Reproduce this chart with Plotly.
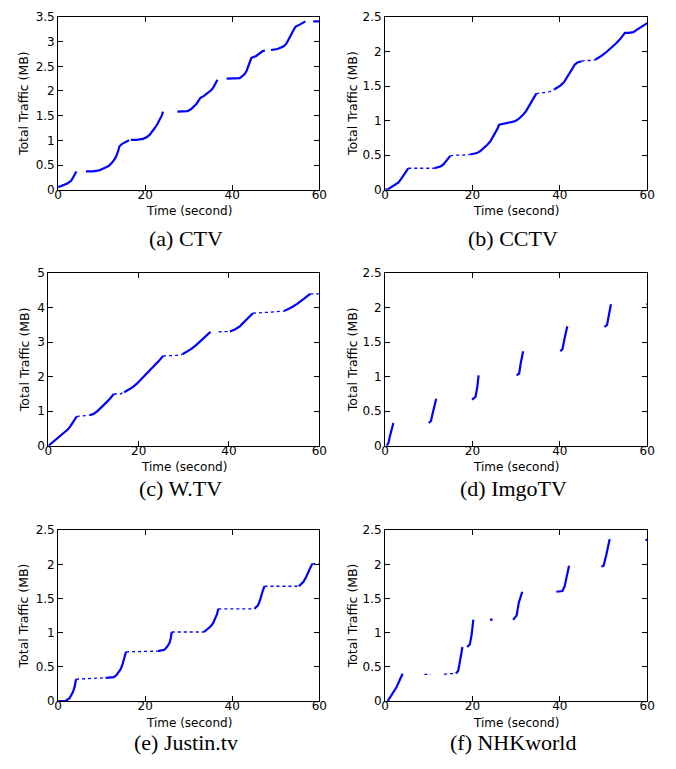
import plotly.graph_objects as go

# (a) CTV
ctv_t = [0, 1, 2, 3, 3.5, 4, 4.2, None,
         6.4, 8, 9.4, 10.5, 11.6, 12.5, 13.2, 13.7, 14.1, 14.7, 15.8, 16.3, None,
         16.7, 18, 19.5, 20.3, 21, 21.6, 22.2, 22.8, 23.3, 23.8, 24.1, None,
         27.4, 28.5, 29.7, 30.5, 31.2, 31.8, 32.3, 32.7, 33.5, 34.6, 35.2, 35.7, 36.2, 36.6, None,
         38.7, 40, 41.7, 42.3, 42.9, 43.3, 43.6, 44, 44.4, 45.5, 46.3, 47, 47.5, None,
         48.9, 50.4, 51.2, 51.9, 52.5, 53, 53.5, 53.9, 54.5, 55.6, 56.3, 56.8, None,
         58.6, 60]
ctv_mb = [0.05, 0.08, 0.12, 0.18, 0.25, 0.33, 0.37, None,
          0.37, 0.37, 0.39, 0.43, 0.48, 0.56, 0.65, 0.76, 0.88, 0.93, 0.99, 1.0, None,
          1.01, 1.01, 1.03, 1.06, 1.11, 1.17, 1.25, 1.33, 1.41, 1.5, 1.58, None,
          1.58, 1.58, 1.59, 1.63, 1.68, 1.74, 1.81, 1.86, 1.9, 1.97, 2.02, 2.08, 2.15, 2.23, None,
          2.25, 2.25, 2.26, 2.3, 2.35, 2.41, 2.48, 2.58, 2.67, 2.71, 2.76, 2.81, 2.82, None,
          2.83, 2.85, 2.88, 2.91, 2.97, 3.05, 3.11, 3.18, 3.3, 3.35, 3.38, 3.41, None,
          3.41, 3.41]
ctv_sparse_t = []
ctv_sparse_mb = []

# (b) CCTV
cctv_t = [0, 0.8, 1.5, 2.2, 3, 3.6, 4.1, 4.5, 4.9, 5.3, None,
          11.3, 12, 12.8, 13.4, 13.9, 14.4, 14.9, None,
          19.5, 20.2, 21, 21.8, 22.6, 23.4, 24.1, 24.7, 25.2, 25.7, 26.1, 27, 27.8, 28.8, 29.7,
          30.5, 31.2, 31.8, 32.3, 32.9, 33.5, 34.1, 34.6, None,
          38.7, 39.5, 40.2, 41, 41.7, 42.3, 42.9, 43.4, 44, 45, None,
          48.1, 48.9, 49.6, 50.8, 51.9, 52.9, 53.8, 54.4, 54.9, 55.8, 56.8, 57.5, 58.3, 59.2, 60]
cctv_mb = [0, 0.01, 0.04, 0.07, 0.1, 0.15, 0.2, 0.23, 0.27, 0.31, None,
           0.31, 0.32, 0.34, 0.37, 0.41, 0.45, 0.49, None,
           0.51, 0.52, 0.53, 0.56, 0.6, 0.65, 0.7, 0.76, 0.82, 0.88, 0.94, 0.95, 0.96, 0.97, 0.99,
           1.02, 1.06, 1.1, 1.14, 1.2, 1.27, 1.33, 1.39, None,
           1.45, 1.48, 1.51, 1.56, 1.63, 1.7, 1.77, 1.81, 1.84, 1.86, None,
           1.88, 1.91, 1.94, 2.0, 2.06, 2.12, 2.18, 2.23, 2.27, 2.27, 2.28, 2.31, 2.34, 2.38, 2.41]
cctv_sparse_t = [5.3, 8, 11.3, None, 14.9, 16.2, 18, 19.5, None,
                 34.6, 35.7, 36.8, 37.8, 38.7, None, 45, 45.9, 47, 48.1]
cctv_sparse_mb = [0.31, 0.31, 0.31, None, 0.49, 0.5, 0.5, 0.51, None,
                  1.39, 1.4, 1.4, 1.42, 1.45, None, 1.86, 1.87, 1.87, 1.88]

# (c) W.TV
wtv_t = [0, 1.2, 2.5, 3.4, 4.3, 4.9, 5.4, 5.9, 6.3, None,
         9.2, 10.1, 11, 12, 12.7, 13.4, 14, 14.5, None,
         16.8, 17.7, 18.7, 19.6, 20.5, 21.4, 22.5, 23.6, 24.5, 25.4, None,
         29.7, 30.6, 31.5, 32.6, 33.7, 34.8, 35.9, None,
         40.2, 41.3, 42.4, 43.3, 44.2, 44.8, 45.3, None,
         52.2, 53.1, 54, 55.1, 56.2, 57.1, 58]
wtv_mb = [0, 0.13, 0.28, 0.37, 0.47, 0.57, 0.66, 0.76, 0.85, None,
          0.89, 0.93, 1.02, 1.14, 1.23, 1.33, 1.42, 1.5, None,
          1.55, 1.61, 1.7, 1.8, 1.92, 2.04, 2.18, 2.32, 2.46, 2.6, None,
          2.65, 2.71, 2.79, 2.9, 3.03, 3.16, 3.3, None,
          3.31, 3.37, 3.46, 3.57, 3.69, 3.77, 3.84, None,
          3.9, 3.95, 4.02, 4.11, 4.21, 4.31, 4.4]
wtv_sparse_t = [6.3, 7.3, 8.3, 9.2, None, 14.5, 15.9, 16.8, None, 25.4, 27.2, 28.5, 29.7, None,
                37.7, 39, 40.2, None, 45.3, 47.5, 50.4, 52.2, None, 58, 60]
wtv_sparse_mb = [0.85, 0.86, 0.87, 0.89, None, 1.5, 1.5, 1.55, None, 2.6, 2.6, 2.62, 2.65, None,
                 3.3, 3.3, 3.31, None, 3.84, 3.85, 3.88, 3.9, None, 4.4, 4.4]

# (d) ImgoTV
imgo_t = [0.4, 0.8, 1.1, 1.5, 1.9, None, 10, 10.5, 10.9, 11.3, 11.7, None,
          19.9, 20.7, 21.1, 21.4, None, 30.1, 30.7, 31, 31.6, None,
          40.1, 40.6, 41.1, 41.7, None, 50.2, 50.8, 51.3, 51.7, None, 59.8, 60]
imgo_mb = [0, 0.05, 0.14, 0.24, 0.33, None, 0.33, 0.36, 0.47, 0.59, 0.68, None,
           0.67, 0.71, 0.85, 1.02, None, 1.02, 1.05, 1.18, 1.37, None,
           1.37, 1.4, 1.56, 1.73, None, 1.72, 1.75, 1.92, 2.05, None, 2.05, 2.05]
imgo_sparse_t = []
imgo_sparse_mb = []

# (e) Justin.tv
justin_t = [0, 1.7, 2.6, 3.4, 3.8, 4.1, None,
            10.9, 12.8, 13.4, 13.9, 14.4, 14.8, 15.2, 15.6, None,
            22.9, 24.4, 25, 25.6, 25.9, 26.1, None,
            33.5, 35, 35.6, 36.1, 36.5, 36.8, None,
            45.1, 45.9, 46.3, 46.6, 47, 47.4, None,
            55.3, 56.4, 57, 57.5, 58, 58.4]
justin_mb = [0, 0, 0.04, 0.13, 0.21, 0.32, None,
             0.34, 0.35, 0.38, 0.42, 0.47, 0.54, 0.62, 0.72, None,
             0.73, 0.75, 0.79, 0.85, 0.93, 1.01, None,
             1.01, 1.09, 1.14, 1.2, 1.27, 1.35, None,
             1.35, 1.4, 1.46, 1.54, 1.61, 1.68, None,
             1.68, 1.75, 1.82, 1.9, 1.96, 2.01]
justin_sparse_t = [4.1, 7.5, 10.9, None, 15.6, 19, 22.9, None, 26.1, 30, 33.5, None,
                   36.8, 41, 45.1, None, 47.4, 51, 55.3, None, 58.4, 60]
justin_sparse_mb = [0.32, 0.33, 0.34, None, 0.72, 0.72, 0.73, None, 1.01, 1.01, 1.01, None,
                    1.35, 1.35, 1.35, None, 1.68, 1.68, 1.68, None, 2.01, 2.01]

# (f) NHKworld
nhk_t = [0.6, 1.5, 2.6, 3.3, 4, None, 16.2, 16.7, 17, 17.3, 17.7, None,
         18.8, 19.4, 19.8, 20, 20.2, None, 24, 24.6, None,
         29.3, 30.1, 30.6, 31, 31.4, None, 39.2, 40.6, 41.1, 41.6, 42.1, None,
         49.5, 50, 50.6, 51, 51.4, None, 59.6, 60]
nhk_mb = [0, 0.09, 0.2, 0.3, 0.4, None, 0.4, 0.44, 0.53, 0.63, 0.79, None,
          0.79, 0.83, 0.97, 1.08, 1.19, None, 1.19, 1.19, None,
          1.19, 1.25, 1.44, 1.52, 1.6, None, 1.6, 1.61, 1.68, 1.82, 1.98, None,
          1.97, 1.98, 2.13, 2.25, 2.37, None, 2.36, 2.36]
nhk_sparse_t = [9, 10.5, None, 13.5, 14.7, 16.2]
nhk_sparse_mb = [0.39, 0.39, None, 0.39, 0.4, 0.4]

captions = ['(a) CTV', '(b) CCTV', '(c) W.TV', '(d) ImgoTV', '(e) Justin.tv', '(f) NHKworld']
y_max = [3.5, 2.5, 5, 2.5, 2.5, 2.5]
y_step = [0.5, 0.5, 1, 0.5, 0.5, 0.5]

panels = [(ctv_t, ctv_mb, ctv_sparse_t, ctv_sparse_mb),
          (cctv_t, cctv_mb, cctv_sparse_t, cctv_sparse_mb),
          (wtv_t, wtv_mb, wtv_sparse_t, wtv_sparse_mb),
          (imgo_t, imgo_mb, imgo_sparse_t, imgo_sparse_mb),
          (justin_t, justin_mb, justin_sparse_t, justin_sparse_mb),
          (nhk_t, nhk_mb, nhk_sparse_t, nhk_sparse_mb)]

# page is 676x769, the html body keeps its 8px margin
PAD = 8
W, H = 676 - 2 * PAD, 769 - 2 * PAD
# plot boxes in page pixels: left, right, top, bottom
boxes = [(55, 321, 10, 186), (388, 655, 10, 186),
         (45, 321, 271, 447), (388, 655, 271, 447),
         (55, 321, 533, 707), (388, 655, 533, 707)]
cap_y = [236, 236, 490, 490, 749, 749]
ytitle_x = [20, 355, 21, 355, 20, 355]


def px(x):
    return (x - PAD) / W


def py(y):
    return 1 - (y - PAD) / H


fig = go.Figure()
sans = 'DejaVu Sans, Arial'
tick_font = dict(family=sans, size=12, color='black')


def note(x, y, text, font, angle=0):
    fig.add_annotation(x=px(x), y=py(y), xref='paper', yref='paper', text=text,
                       showarrow=False, textangle=angle, font=font,
                       xanchor='center', yanchor='middle')


for i, (t, mb, st, smb) in enumerate(panels):
    n = '' if i == 0 else str(i + 1)
    xa, ya = 'x' + n, 'y' + n
    fig.add_trace(go.Scatter(x=t, y=mb, mode='lines', xaxis=xa, yaxis=ya,
                             line=dict(color='#0000ff', width=2.2), connectgaps=False,
                             showlegend=False))
    if st:
        fig.add_trace(go.Scatter(x=st, y=smb, mode='lines', xaxis=xa, yaxis=ya,
                                 line=dict(color='#0000ff', width=1.3, dash='dot'),
                                 connectgaps=False, showlegend=False))
    l, r, tp, b = boxes[i]
    ax = dict(showline=True, linecolor='black', linewidth=1, mirror='ticks',
              ticks='inside', ticklen=5, tickcolor='black', showgrid=False,
              zeroline=False, tickfont=tick_font)
    fig.layout['xaxis' + n] = dict(ax, domain=[px(l), px(r)], range=[0, 60],
                                   tickvals=[0, 20, 40, 60], anchor=ya,
                                   ticklabelstandoff=-6)
    yt = [round(k * y_step[i], 2) for k in range(int(y_max[i] / y_step[i]) + 1)]
    fig.layout['yaxis' + n] = dict(ax, domain=[py(b), py(tp)],
                                   range=[0, y_max[i]], tickvals=yt, anchor=xa)
    note((l + r) / 2, b + 22, 'Time (second)', dict(family=sans, size=12, color='black'))
    note(ytitle_x[i], (tp + b) / 2, 'Total Traffic (MB)',
         dict(family=sans, size=12.5, color='black'), angle=-90)
    note((l + r) / 2 - 3, cap_y[i], captions[i],
         dict(family='Liberation Serif, Times New Roman', size=22, color='black'))

fig.update_layout(width=W, height=H, margin=dict(l=0, r=0, t=0, b=0),
                  plot_bgcolor='white', paper_bgcolor='white')
fig.write_html("out.html", config={'displayModeBar': False})
